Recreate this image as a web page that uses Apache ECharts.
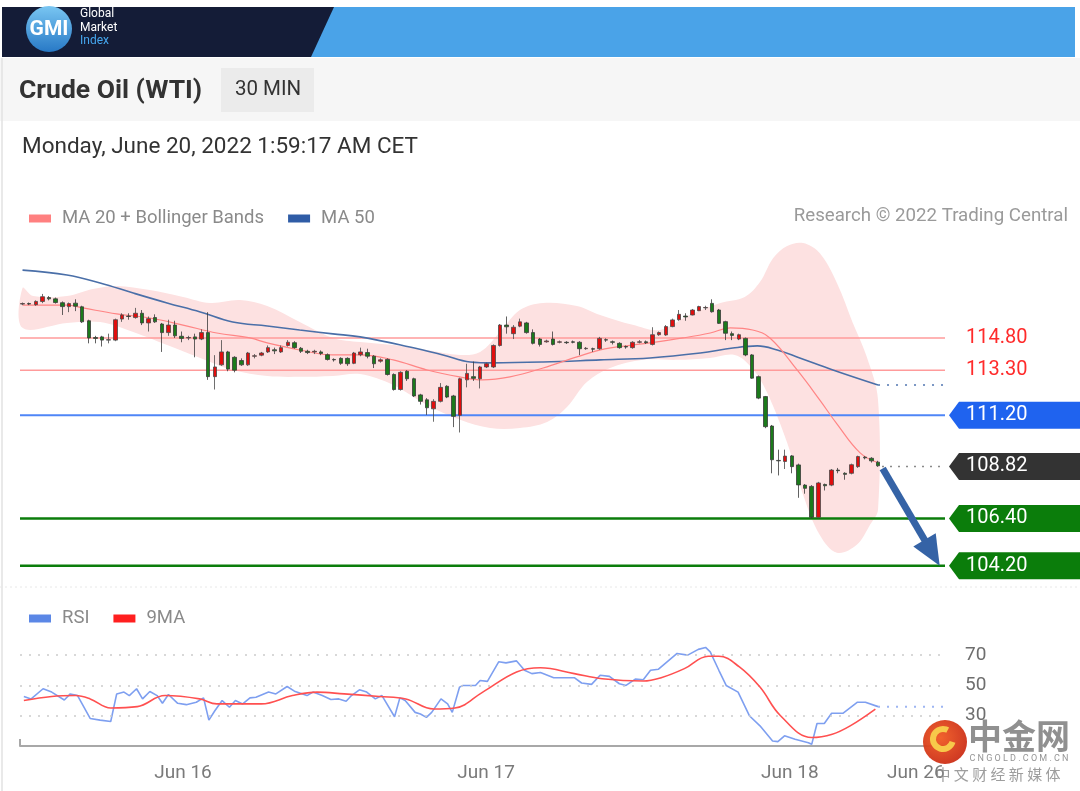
<!DOCTYPE html>
<html><head><meta charset="utf-8">
<script src="https://cdn.jsdelivr.net/npm/echarts@6/dist/echarts.min.js"></script>
<style>html,body{margin:0;padding:0;background:#fff}#c{width:1080px;height:791px}</style>
</head><body><div id="c"></div>
<script>
// ---------- DATA ----------
// 30-min candles: [open, close, low, high]
const candles = [
[116.38,116.40,116.33,116.45],[116.40,116.38,116.33,116.45],[116.35,116.50,116.30,116.55],[116.50,116.72,116.42,116.85],
[116.68,116.62,116.55,116.75],[116.62,116.45,116.40,116.68],[116.44,116.26,115.87,116.50],[116.26,116.40,116.00,116.45],
[116.42,116.28,116.05,116.60],[116.25,115.55,115.50,116.30],[115.60,114.80,114.55,115.65],[114.82,114.78,114.55,114.90],
[114.85,114.70,114.40,114.90],[114.70,114.72,114.55,115.00],[114.70,115.65,114.65,115.70],[115.68,115.87,115.55,115.95],
[115.82,115.80,115.65,115.95],[115.75,115.95,115.70,116.20],[115.95,115.50,115.40,116.10],[115.50,115.70,115.10,115.80],
[115.75,115.55,115.50,115.90],[115.45,115.05,114.15,115.50],[115.05,115.40,114.90,115.65],[115.40,114.90,114.80,115.60],
[114.88,114.78,114.60,115.10],[114.80,114.82,114.70,114.90],[114.85,114.75,113.90,115.00],[114.75,115.05,114.70,115.20],
[115.05,113.00,112.85,116.00],[113.00,113.45,112.40,114.00],[113.55,114.15,113.50,114.70],[114.15,113.35,113.25,114.20],
[113.90,113.30,113.20,113.95],[113.75,113.55,113.50,113.85],[113.55,114.10,113.50,114.15],[113.95,113.97,113.85,114.05],
[114.00,114.10,113.95,114.15],[114.15,114.35,114.10,114.45],[114.25,114.20,114.05,114.35],[114.15,114.35,114.10,114.45],
[114.45,114.60,114.40,114.70],[114.58,114.35,114.30,114.65],[114.32,114.18,114.10,114.38],[114.18,114.12,114.05,114.25],
[114.15,114.18,114.05,114.25],[114.15,114.08,114.00,114.22],[114.02,113.80,113.75,114.08],[113.80,113.78,113.70,113.85],
[113.85,113.62,113.55,113.90],[113.85,113.60,113.50,113.90],[113.62,114.10,113.58,114.15],[114.02,114.15,113.95,114.35],
[114.12,113.95,113.85,114.30],[113.95,113.60,113.40,114.00],[113.72,113.78,113.65,113.85],[113.80,113.10,113.05,113.85],
[113.10,112.40,112.35,113.15],[112.40,113.20,112.35,113.25],[113.25,112.90,112.80,113.30],[112.90,112.10,112.05,112.95],
[112.15,111.85,111.70,112.20],[111.92,111.55,111.22,112.00],[111.50,111.85,110.90,111.95],[111.85,112.50,111.80,112.70],
[112.55,112.05,112.00,112.60],[112.10,111.15,110.65,112.15],[111.20,112.90,110.40,112.95],[112.85,113.15,112.50,113.60],
[113.00,112.92,112.80,113.70],[112.90,113.45,112.45,113.50],[113.45,113.60,113.40,113.65],[113.45,114.45,113.40,114.50],
[114.45,115.40,114.40,115.45],[115.40,115.32,115.00,115.80],[115.00,115.30,114.75,115.40],[115.35,115.55,115.30,115.70],
[115.50,115.05,115.00,115.55],[115.05,114.55,114.50,115.20],[114.75,114.50,114.40,114.80],[114.62,114.66,114.58,114.72],
[114.75,114.50,114.45,115.10],[114.60,114.62,114.55,114.68],[114.60,114.58,114.52,114.65],[114.62,114.60,114.55,114.68],
[114.60,114.30,114.00,114.65],[114.30,114.32,114.25,114.38],[114.30,114.28,114.15,114.35],[114.30,114.78,114.25,114.85],
[114.72,114.70,114.62,114.78],[114.62,114.60,114.50,114.68],[114.55,114.35,114.30,114.60],[114.40,114.38,114.30,114.45],
[114.35,114.60,114.30,114.65],[114.60,114.62,114.55,114.70],[114.62,114.58,114.52,114.68],[114.50,114.95,114.45,115.30],
[114.95,115.05,114.90,115.10],[114.94,115.33,114.90,115.40],[115.33,115.64,115.30,115.70],[115.65,115.90,115.60,116.10],
[115.82,115.78,115.60,115.95],[115.87,116.10,115.85,116.15],[116.07,116.26,116.05,116.30],[116.20,116.22,116.10,116.30],
[116.41,116.02,115.98,116.60],[116.10,115.48,115.45,116.15],[115.56,115.02,114.70,115.60],[115.00,114.92,114.70,115.10],
[114.75,114.95,114.70,115.00],[114.78,114.01,113.95,114.82],[114.01,112.93,112.90,114.05],[113.00,112.00,111.95,113.05],
[112.07,110.67,110.60,112.10],[110.70,109.13,108.50,110.75],[109.10,109.08,108.40,109.60],[109.05,109.30,108.70,109.60],
[109.31,108.81,108.50,109.35],[108.89,107.96,107.36,108.95],[107.95,107.80,107.55,108.00],[107.89,106.45,106.40,107.95],
[106.45,108.05,106.40,108.10],[107.98,107.92,107.70,108.02],[107.95,108.65,107.90,108.70],[108.65,108.62,108.50,108.75],
[108.50,108.45,108.20,108.55],[108.50,108.90,108.45,108.95],[108.81,109.28,108.75,109.32],[109.25,109.22,109.15,109.30],
[109.20,109.08,109.00,109.25],[109.02,108.85,108.80,109.08]
];
// [candle index, price]
const ma50 = [[0,117.96],[6.7,117.73],[11.7,117.36],[16.7,116.89],[21.8,116.43],[26.8,116.01],[31.7,115.54],[36.9,115.36],
[41.8,115.17],[46.8,114.99],[50.9,114.85],[58.4,114.38],[63.4,114.01],[67.5,113.68],[70.9,113.64],[78.5,113.68],[87.1,113.78],
[94.6,113.87],[102.2,114.10],[107.1,114.33],[110.8,114.43],[113.8,114.24],[117.2,113.87],[122.2,113.31],[129,112.61]];
const ma50Ext = [[129,112.61],[139,112.61]];
const ma20 = [[0,116.33],[6.7,116.33],[9.1,116.20],[14.2,115.92],[19.2,115.73],[24.2,115.40],[29.3,115.03],[34.3,114.80],
[36.9,114.57],[41.8,114.24],[46.8,114.01],[50.9,114.01],[55.9,113.78],[61.0,113.31],[65.9,112.99],[69.4,112.85],[73.5,112.99],
[78.5,113.40],[83.6,113.92],[87.8,114.29],[94.6,114.57],[99.6,114.80],[103.7,115.03],[106.7,115.27],[110.1,115.17],[112.7,114.80],
[116.8,113.31],[120.2,111.92],[122.8,110.80],[126.3,109.45],[129,108.99]];
const bbUpper = [[0,117.13],[1.6,116.75],[6.7,116.75],[10.6,117.08],[14.2,117.22],[19.2,117.03],[24.2,116.71],[28.3,116.43],
[32.8,116.57],[36.9,116.29],[41.8,115.54],[46.8,114.80],[50.9,114.61],[55.9,114.47],[61.0,114.24],[66.0,114.01],[69.0,114.15],
[72.0,115.08],[75.0,116.10],[78.5,116.43],[83.6,116.29],[87.1,115.87],[92.0,115.41],[96.1,115.17],[100.6,115.87],[105.2,116.43],
[108.9,116.71],[111.2,117.40],[113.2,118.52],[115.3,119.08],[117.7,119.22],[120.2,118.75],[122.8,117.36],[125.2,115.50],
[127.3,113.92],[129,111.92]];
const bbLower = [[0,115.27],[6.7,115.50],[11.7,115.54],[16.7,115.08],[21.8,114.47],[26.8,113.87],[31.7,113.31],[36.9,113.03],
[41.8,112.99],[46.8,113.03],[50.9,113.12],[55.9,112.61],[61.0,111.68],[66.0,110.99],[70.5,110.61],[75.0,110.61],[79.1,110.89],
[82.1,111.59],[85.1,112.75],[88.6,113.40],[93.6,113.78],[98.7,113.78],[103.6,113.87],[107.4,114.01],[110.0,113.40],[112.3,112.24],
[115.3,109.92],[117.7,107.50],[120.2,105.64],[122.8,104.80],[125.8,105.17],[127.8,106.10],[129,106.80]];
const levelValues = [114.80, 113.30, 111.20, 108.82, 106.40, 104.20];
const levelKinds  = ['red', 'red', 'blue', 'current', 'green', 'green'];
const arrowFrom = [129.7, 108.72];
const arrowTo = [138.3, 104.20];
const rsi = [[0.2,42.7],[1.3,41.1],[3.1,47.8],[4.4,45.6],[6.3,40.4],[7.2,44.4],[8.3,43.3],[10.2,28.2],[11.7,27.1],[13.3,26.2],
[14.2,44.4],[15.3,45.6],[16.1,43.3],[17.2,47.8],[18.1,41.1],[19.2,46],[20.3,43.3],[21.1,38.2],[22.0,44],[23.4,38.2],[24.7,37.3],
[26.2,38.9],[27.3,41.8],[28.1,27.1],[29.0,33.3],[30.1,40],[31.2,35.6],[32.1,40],[33.2,37.8],[34.3,41.8],[35.2,42.2],[37.1,45.6],
[38.2,44.4],[39.9,49.3],[41.0,46.2],[42.9,43.3],[43.8,45.6],[45.2,43.3],[46.5,40.7],[47.7,41.1],[48.8,39.6],[49.6,43.3],[50.8,47.1],
[51.9,45.6],[53.2,41.1],[54.2,43.3],[56.1,29.3],[56.9,41.8],[57.7,40],[59.2,32.2],[60.0,31.1],[60.9,28.9],[61.7,32.2],[63.1,41.1],
[64.1,37.8],[64.8,32.2],[65.9,48.9],[66.4,50],[68.3,50],[69.0,53.3],[70.1,52.7],[71.8,65.6],[72.9,64.9],[74.5,66.2],[75.7,60],
[76.8,57.8],[78.1,58.5],[80.1,55.1],[83.2,55.1],[84.3,51.6],[85.8,50.7],[87.1,56.7],[88.5,56],[90.0,51.1],[91.0,50],
[92.4,54.2],[93.6,53.8],[94.7,60],[95.9,60.7],[97.5,66.7],[98.7,71.1],[100.3,70],[101.9,73.8],[103.0,75.1],[103.7,72.2],[105.0,60],
[106.1,50],[107.9,45.6],[109.6,30],[111.2,23.3],[113.1,13.3],[113.9,12.9],[114.9,16.7],[116.5,14.4],[118.5,12.2],[119.0,11.1],
[119.8,24.9],[120.9,24.9],[122.0,31.6],[123.7,31.6],[125.9,38.9],[127.1,38.9],[129.0,36]];
const rsiExt = [[129.0,36],[139,36]];
const rsiMa = [[0.2,40],[4.4,42.7],[8.0,43.3],[10.2,41.1],[13.3,35.1],[17.3,36],[21.5,43.3],[26.7,41.1],[29.3,37.8],[36.0,37.8],
[40.7,43.3],[44.4,45.6],[48.5,44.4],[53.8,42.7],[57.8,41.1],[62.0,34.4],[65.2,35.1],[69.4,45.6],[74.5,58.9],[78.1,61.7],
[83.2,57.8],[87.4,54.4],[93.6,52.9],[96.3,55.1],[99.8,61.1],[103.4,69.3],[105.0,69.3],[108.1,62.2],[111.2,48.9],[114.3,30],
[119.0,15.6],[122.1,17.8],[124.8,23.3],[128.6,34.4]];
const rsiLevels = [30, 50, 70];
const xTickPos = [24.2, 69.9, 115.7, 134.7];
const xTickText = ['Jun 16', 'Jun 17', 'Jun 18', 'Jun 26'];

// ---------- CHART ----------
const FONT = 'Roboto, "Liberation Sans", Arial, sans-serif';
const chart = echarts.init(document.getElementById('c'), null, {renderer: 'canvas'});
const X_MIN = -0.38, X_MAX = 139.1;
const lastIdx = candles.length - 1;
const levelStyle = {
  red:     {line: '#ff9b9b', width: 1.5, text: '#ff2b2b', box: null},
  blue:    {line: '#4f86f7', width: 2,   text: '#ffffff', box: '#1f63ef'},
  current: {line: '#8a8a8a', width: 1.5, text: '#ffffff', box: '#333333', dash: [2, 6]},
  green:   {line: '#0b7d0b', width: 2.5, text: '#ffffff', box: '#0b7d0b'}
};

const option = {
  animation: false,
  backgroundColor: '#ffffff',
  textStyle: {fontFamily: FONT},
  legend: [
    {left: 24, top: 204, itemWidth: 22, itemHeight: 8, itemGap: 24, icon: 'rect', selectedMode: false,
     textStyle: {color: '#8a8a8a', fontSize: 18.5, fontFamily: FONT, padding: [0, 0, 0, 6]},
     data: ['MA 20 + Bollinger Bands', 'MA 50']},
    {left: 24, top: 604, itemWidth: 22, itemHeight: 8, itemGap: 24, icon: 'rect', selectedMode: false,
     textStyle: {color: '#8a8a8a', fontSize: 18.5, fontFamily: FONT, padding: [0, 0, 0, 6]},
     data: ['RSI', '9MA']}
  ],
  grid: [
    {left: 20, top: 237, width: 925, height: 348},
    {left: 20, top: 640, width: 925, height: 106}
  ],
  xAxis: [
    {type: 'value', gridIndex: 0, min: X_MIN, max: X_MAX, show: false},
    {type: 'value', gridIndex: 1, min: X_MIN, max: X_MAX,
     axisLine: {show: true, lineStyle: {color: '#a8a8a8', width: 2}},
     axisTick: {show: true, inside: true, length: 7, customValues: [X_MIN], lineStyle: {color: '#a8a8a8', width: 2}},
     splitLine: {show: false},
     axisLabel: {customValues: xTickPos, margin: 18, color: '#7a7a7a', fontSize: 19, fontFamily: FONT,
       formatter: function (v) {
         let best = 0;
         xTickPos.forEach(function (p, i) { if (Math.abs(p - v) < Math.abs(xTickPos[best] - v)) best = i; });
         return xTickText[best];
       }}}
  ],
  yAxis: [
    {type: 'value', gridIndex: 0, min: 103.3, max: 119.5, show: false},
    {type: 'value', gridIndex: 1, min: 10, max: 80, position: 'right',
     axisLine: {show: false}, axisTick: {show: false}, splitLine: {show: false},
     axisLabel: {customValues: rsiLevels, margin: 20, color: '#6e6e6e', fontSize: 19, fontFamily: FONT, align: 'left'}}
  ],
  series: [
    { // Bollinger band fill
      type: 'custom', name: 'band', xAxisIndex: 0, yAxisIndex: 0, z: 1, silent: true,
      data: [[0, bbUpper[0][1]]], encode: {x: 0, y: 1},
      renderItem: function (params, api) {
        const pts = bbUpper.map(function (p) { return api.coord(p); })
          .concat(bbLower.slice().reverse().map(function (p) { return api.coord(p); }));
        return {type: 'polygon', shape: {points: pts, smooth: 0.35}, style: {fill: '#fde1e1'}};
      }
    },
    { // horizontal levels with labels
      type: 'custom', name: 'levels', xAxisIndex: 0, yAxisIndex: 0, z: 3, silent: true, clip: false,
      data: levelValues.map(function (v) { return [0, v]; }), encode: {x: 0, y: 1},
      renderItem: function (params, api) {
        const v = api.value(1);
        const kind = levelKinds[params.dataIndex];
        const st = levelStyle[kind];
        const cs = params.coordSys;
        const y = api.coord([0, v])[1];
        const xR = cs.x + cs.width;
        const xS = kind === 'current' ? api.coord([lastIdx + 0.6, v])[0] : cs.x;
        const children = [{type: 'line', shape: {x1: xS, y1: y, x2: xR, y2: y},
          style: {stroke: st.line, lineWidth: st.width, lineDash: st.dash || null}}];
        if (st.box) {
          children.push({type: 'polygon', shape: {points: [[xR + 4, y], [xR + 14, y - 13.5], [xR + 135, y - 13.5], [xR + 135, y + 13.5], [xR + 14, y + 13.5]]},
            style: {fill: st.box}});
        }
        children.push({type: 'text', style: {x: xR + 21, y: y, text: v.toFixed(2), fill: st.text,
          font: '20px ' + FONT, textVerticalAlign: 'middle', verticalAlign: 'middle'}});
        return {type: 'group', children: children};
      }
    },
    { // forecast arrow
      type: 'custom', name: 'arrow', xAxisIndex: 0, yAxisIndex: 0, z: 8, silent: true, clip: false,
      data: [[arrowTo[0], arrowTo[1]]], encode: {x: 0, y: 1},
      renderItem: function (params, api) {
        const a = api.coord(arrowFrom), b = api.coord(arrowTo);
        const dx = b[0] - a[0], dy = b[1] - a[1], len = Math.sqrt(dx * dx + dy * dy);
        const ux = dx / len, uy = dy / len, px = -uy, py = ux;
        const hl = 30, hw = 13;
        const bx = b[0] - ux * hl, by = b[1] - uy * hl;
        return {type: 'group', children: [
          {type: 'line', shape: {x1: a[0], y1: a[1], x2: bx + ux * 2, y2: by + uy * 2}, style: {stroke: '#3563a6', lineWidth: 7}},
          {type: 'polygon', shape: {points: [[b[0], b[1]], [bx + px * hw, by + py * hw], [bx - px * hw, by - py * hw]]}, style: {fill: '#3563a6'}}
        ]};
      }
    },
    {
      type: 'line', name: 'MA 50', xAxisIndex: 0, yAxisIndex: 0, z: 4, data: ma50, smooth: 0.4, showSymbol: false,
      color: '#2f5ca6', lineStyle: {color: '#4a6fa8', width: 1.6}, silent: true
    },
    {
      type: 'line', name: 'ma50ext', xAxisIndex: 0, yAxisIndex: 0, z: 4, data: ma50Ext, showSymbol: false,
      lineStyle: {color: '#7b97c4', width: 2, type: [2, 7]}, silent: true
    },
    {
      type: 'line', name: 'MA 20 + Bollinger Bands', xAxisIndex: 0, yAxisIndex: 0, z: 4, data: ma20, smooth: 0.4, showSymbol: false,
      color: '#ff8080', lineStyle: {color: '#ff8585', width: 1.2}, silent: true
    },
    {
      type: 'candlestick', name: 'WTI', xAxisIndex: 0, yAxisIndex: 0, z: 5, barWidth: 4,
      data: candles.map(function (c, i) { return [i, c[0], c[1], c[2], c[3]]; }),
      encode: {x: 0, y: [1, 2, 3, 4]},
      itemStyle: {color: '#e00d0d', color0: '#1b7a1b', borderColor: '#4a4a4a', borderColor0: '#3a3a3a', borderWidth: 0.8}
    },
    {
      type: 'line', name: 'RSI', xAxisIndex: 1, yAxisIndex: 1, z: 4, data: rsi, showSymbol: false,
      color: '#5b87e6', lineStyle: {color: '#7e9ff0', width: 1.6}, silent: true,
      markLine: {silent: true, symbol: 'none', label: {show: false},
        lineStyle: {color: '#cccccc', width: 1.6, type: [2, 7]},
        data: rsiLevels.map(function (v) { return {yAxis: v}; })}
    },
    {
      type: 'line', name: 'rsiExt', xAxisIndex: 1, yAxisIndex: 1, z: 4, data: rsiExt, showSymbol: false,
      lineStyle: {color: '#9db5f2', width: 2, type: [2, 7]}, silent: true
    },
    {
      type: 'line', name: '9MA', xAxisIndex: 1, yAxisIndex: 1, z: 5, data: rsiMa, smooth: 0.4, showSymbol: false,
      color: '#ff1f1f', lineStyle: {color: '#ff5050', width: 1.6}, silent: true
    }
  ],
  graphic: [
    // header
    {type: 'rect', left: 2, top: 7, shape: {width: 1073, height: 50}, style: {fill: '#4aa3e8'}, z: 0},
    {type: 'polygon', shape: {points: [[2, 7], [334, 7], [311, 57], [2, 57]]}, style: {fill: '#141c37'}, z: 1},
    {type: 'circle', shape: {cx: 49, cy: 29, r: 23}, z: 2,
     style: {fill: new echarts.graphic.LinearGradient(0, 0, 0, 1, [{offset: 0, color: '#79c6f2'}, {offset: 1, color: '#2879c6'}])}},
    {type: 'text', z: 3, style: {x: 49, y: 30, text: 'GMI', fill: '#ffffff', font: 'bold 21px ' + FONT, textAlign: 'center', textVerticalAlign: 'middle', verticalAlign: 'middle'}},
    {type: 'text', z: 3, style: {x: 80, y: 14, text: 'Global', fill: '#ffffff', font: '12px ' + FONT, textVerticalAlign: 'middle', verticalAlign: 'middle'}},
    {type: 'text', z: 3, style: {x: 80, y: 28, text: 'Market', fill: '#ffffff', font: '12px ' + FONT, textVerticalAlign: 'middle', verticalAlign: 'middle'}},
    {type: 'text', z: 3, style: {x: 80, y: 41, text: 'Index', fill: '#45a6ee', font: '12px ' + FONT, textVerticalAlign: 'middle', verticalAlign: 'middle'}},
    // title band
    {type: 'rect', left: 0, top: 58, shape: {width: 1080, height: 63}, style: {fill: '#f6f6f6'}, z: 0},
    {type: 'rect', left: 221, top: 68, shape: {width: 93, height: 44}, style: {fill: '#ebebeb'}, z: 1},
    {type: 'text', z: 2, style: {x: 19, y: 91, text: 'Crude Oil (WTI)', fill: '#333333', font: 'bold 26.5px ' + FONT, textVerticalAlign: 'middle', verticalAlign: 'middle'}},
    {type: 'text', z: 2, style: {x: 268, y: 90, text: '30 MIN', fill: '#333333', font: '20.5px ' + FONT, textAlign: 'center', textVerticalAlign: 'middle', verticalAlign: 'middle'}},
    {type: 'text', z: 2, style: {x: 22, y: 147, text: 'Monday, June 20, 2022 1:59:17 AM CET', fill: '#333333', font: '22.5px ' + FONT, textVerticalAlign: 'middle', verticalAlign: 'middle'}},
    {type: 'text', z: 2, style: {x: 1068, y: 216, text: 'Research \u00a9 2022 Trading Central', fill: '#9a9a9a', font: '18.7px ' + FONT, textAlign: 'right', textVerticalAlign: 'middle', verticalAlign: 'middle'}},
    // borders / separators
    {type: 'line', shape: {x1: 2, y1: 58, x2: 2, y2: 791}, style: {stroke: '#e2e2e2', lineWidth: 1.5}, z: 0},
    {type: 'line', shape: {x1: 0, y1: 587, x2: 1080, y2: 587}, style: {stroke: '#e8e8e8', lineWidth: 1, lineDash: [2, 3]}, z: 0},
    // watermark
    {type: 'circle', shape: {cx: 945, cy: 742, r: 22}, z: 20,
     style: {fill: new echarts.graphic.RadialGradient(0.4, 0.4, 0.7, [{offset: 0, color: '#f05a22'}, {offset: 1, color: '#c82a16'}]), opacity: 0.95}},
    {type: 'arc', shape: {cx: 943, cy: 739, r: 10, startAngle: 0.3, endAngle: 5.2}, z: 21, style: {stroke: '#f7c94a', lineWidth: 6, fill: null}},
    {type: 'text', z: 20, style: {x: 1019, y: 736, text: '中金网', fill: 'rgba(125,125,125,0.85)', font: 'bold 34px "Noto Sans CJK SC", sans-serif', textAlign: 'center', textVerticalAlign: 'middle', verticalAlign: 'middle'}},
    {type: 'text', z: 20, style: {x: 1019, y: 759, text: 'C N G O L D . C O M . C N', fill: 'rgba(130,130,130,0.85)', font: '9px ' + FONT, textAlign: 'center', textVerticalAlign: 'middle', verticalAlign: 'middle'}},
    {type: 'text', z: 20, style: {x: 998, y: 774, text: '中 文 财 经 新 媒 体', fill: 'rgba(140,140,140,0.85)', font: '15px "Noto Sans CJK SC", sans-serif', textAlign: 'center', textVerticalAlign: 'middle', verticalAlign: 'middle'}}
  ]
};
chart.setOption(option);
</script>
</body></html>
